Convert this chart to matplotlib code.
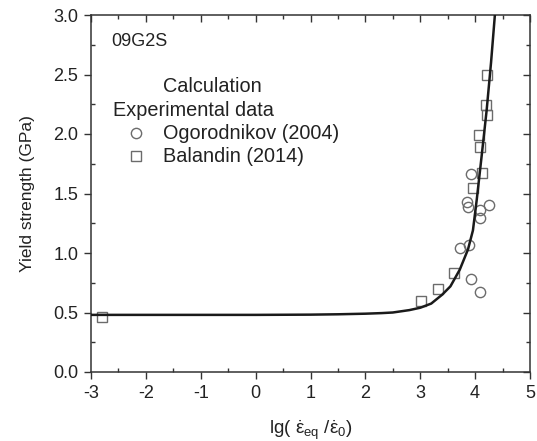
import numpy as np
import matplotlib
matplotlib.use("Agg")
import matplotlib.pyplot as plt
from matplotlib.ticker import MultipleLocator, FormatStrFormatter

plt.rcParams['font.family'] = ['Liberation Sans', 'DejaVu Sans']
plt.rcParams['mathtext.fontset'] = 'custom'
plt.rcParams['mathtext.rm'] = 'Liberation Sans'
plt.rcParams['mathtext.it'] = 'Liberation Sans:italic'
plt.rcParams['axes.unicode_minus'] = False

# Calculation curve
calc_x = [-3.0, -2.0, -1.0, 0.0, 1.0, 1.5, 2.0, 2.3, 2.5, 2.8, 3.0, 3.2,
          3.4, 3.55, 3.72, 3.87, 3.96, 4.03, 4.12, 4.21, 4.29, 4.36]
calc_y = [0.48, 0.48, 0.48, 0.48, 0.482, 0.485, 0.49, 0.495, 0.50, 0.52,
          0.54, 0.575, 0.65, 0.72, 0.86, 1.03, 1.19, 1.45, 1.82, 2.20, 2.60, 3.0]

# Ogorodnikov (2004)
ogo_x = [3.92, 3.85, 3.87, 4.25, 4.09, 4.09, 3.72, 3.89, 3.92, 4.09]
ogo_y = [1.66, 1.43, 1.39, 1.40, 1.36, 1.29, 1.04, 1.07, 0.78, 0.67]

# Balandin (2014)
bal_x = [-2.80, 3.01, 3.32, 3.61, 3.96, 4.12, 4.09, 4.07, 4.21, 4.19, 4.21]
bal_y = [0.46, 0.60, 0.70, 0.83, 1.55, 1.67, 1.89, 1.99, 2.16, 2.24, 2.50]

TXT = '#222222'
AX = '#333333'
MK = '#6b6b6b'

fig = plt.figure(figsize=(5.37, 4.41), dpi=100)
ax = fig.add_axes([91 / 537, 1 - 372 / 441, (530 - 91) / 537, (372 - 15) / 441])

ax.plot(calc_x, calc_y, color='#1a1a1a', lw=1.8, zorder=3)
ax.plot(ogo_x, ogo_y, 'o', ms=7.4, mfc='none', mec=MK, mew=1.0, zorder=2)
ax.plot(bal_x, bal_y, 's', ms=6.8, mfc='none', mec=MK, mew=1.0, zorder=2)

ax.set_xlim(-3, 5)
ax.set_ylim(0, 3)
ax.xaxis.set_major_locator(MultipleLocator(1))
ax.xaxis.set_minor_locator(MultipleLocator(0.5))
ax.yaxis.set_major_locator(MultipleLocator(0.5))
ax.yaxis.set_minor_locator(MultipleLocator(0.25))
ax.yaxis.set_major_formatter(FormatStrFormatter('%.1f'))

for s in ax.spines.values():
    s.set_linewidth(1.1)
    s.set_color(AX)

ax.tick_params(which='major', direction='out', length=5, width=1.0,
               labelsize=13, colors=AX, labelcolor=TXT, pad=4)
ax.tick_params(which='minor', direction='in', length=3, width=1.0, colors=AX)

# top and right spines: inward ticks, no labels
top = ax.secondary_xaxis('top')
right = ax.secondary_yaxis('right')
for sec in (top, right):
    sec.spines[:].set_visible(False)
for axis, step in ((top.xaxis, (1, 0.5)), (right.yaxis, (0.5, 0.25))):
    axis.set_major_locator(MultipleLocator(step[0]))
    axis.set_minor_locator(MultipleLocator(step[1]))
top.tick_params(which='major', direction='in', length=5, width=1.0, colors=AX, labeltop=False)
top.tick_params(which='minor', direction='in', length=3, width=1.0, colors=AX)
right.tick_params(which='major', direction='in', length=5, width=1.0, colors=AX, labelright=False)
right.tick_params(which='minor', direction='in', length=3, width=1.0, colors=AX)

ax.set_ylabel('Yield strength (GPa)', fontsize=12.5, color=TXT, labelpad=13)
ax.set_xlabel(r'lg( $\dot{\mathrm{\varepsilon}}_{\mathrm{eq}}$ /$\dot{\mathrm{\varepsilon}}_{0}$)',
              fontsize=13.5, color=TXT, labelpad=12)

# legend block drawn as text inside the axes
def px(x, y):
    return ((x - 91) / (530 - 91), (372 - y) / (372 - 15))

ax.text(*px(111, 42), '09G2S', transform=ax.transAxes, fontsize=13,
        va='center', ha='left', color=TXT)
ax.text(*px(163, 87), 'Calculation', transform=ax.transAxes, fontsize=14.3,
        va='center', ha='left', color=TXT)
ax.text(*px(113, 110), 'Experimental data', transform=ax.transAxes, fontsize=14.3,
        va='center', ha='left', color=TXT)
ax.text(*px(163, 133), 'Ogorodnikov (2004)', transform=ax.transAxes, fontsize=14.3,
        va='center', ha='left', color=TXT)
ax.text(*px(163, 156), 'Balandin (2014)', transform=ax.transAxes, fontsize=14.3,
        va='center', ha='left', color=TXT)
ax.plot(*px(136, 133), 'o', ms=7.4, mfc='none', mec=MK, mew=1.0,
        transform=ax.transAxes)
ax.plot(*px(136, 156), 's', ms=6.8, mfc='none', mec=MK, mew=1.0,
        transform=ax.transAxes)

fig.savefig('out.png', dpi=100)
